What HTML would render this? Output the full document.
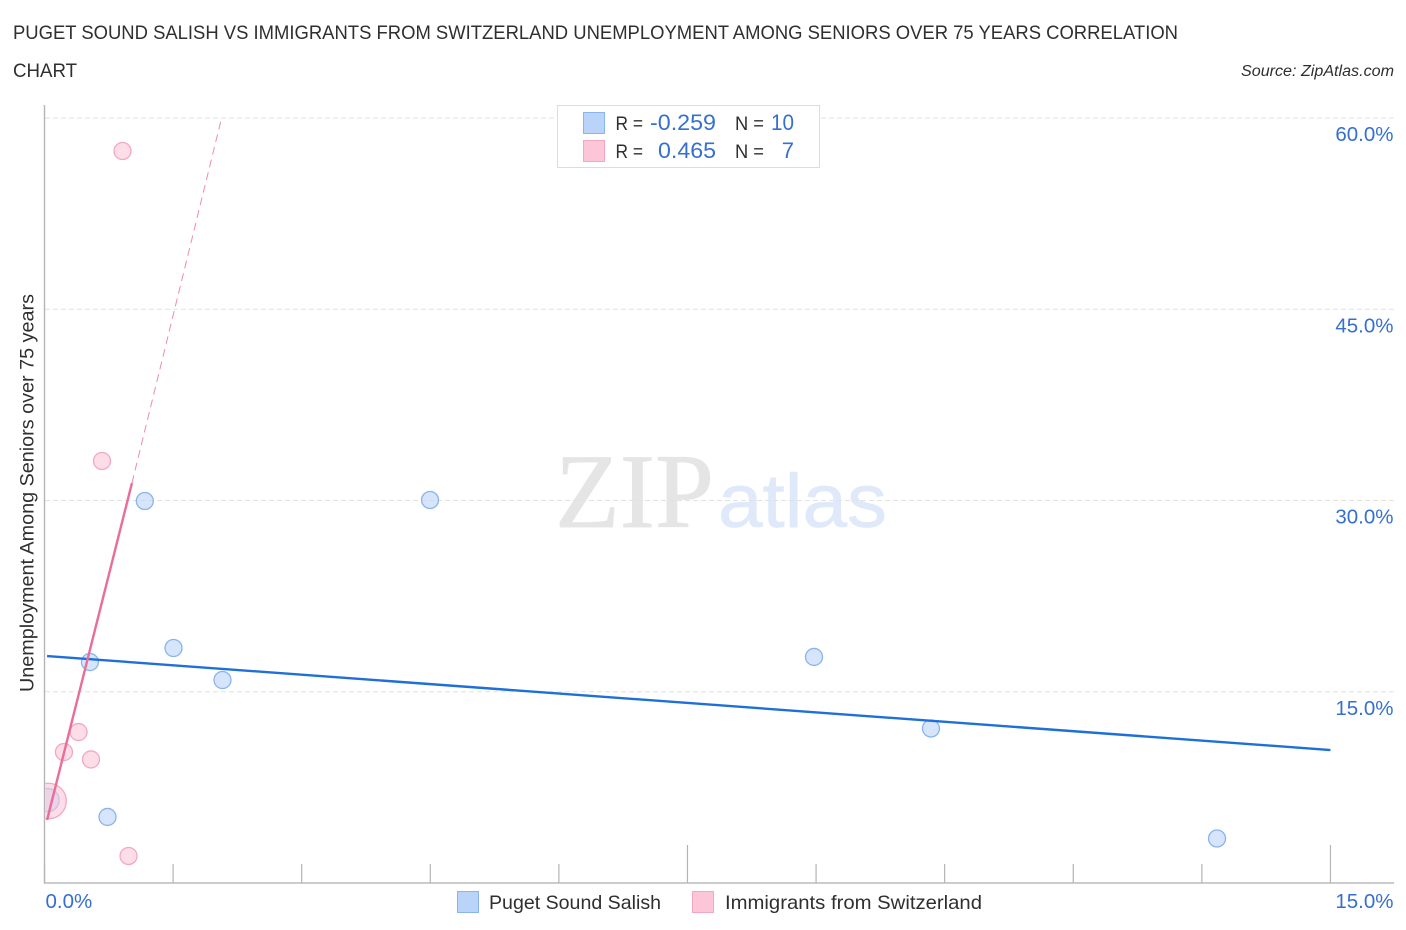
<!DOCTYPE html>
<html lang="en">
<head>
<meta charset="utf-8">
<title>Puget Sound Salish vs Immigrants from Switzerland Correlation Chart</title>
<style>
html,body{margin:0;padding:0;background:#fff;width:1406px;height:930px;overflow:hidden}
svg{display:block;font-family:"Liberation Sans",sans-serif}
.blue-text{fill:#3670cf}
.dark-text{fill:#2f2f2f}
</style>
</head>
<body>
<svg id="chart" width="1406" height="930" viewBox="0 0 1406 930" xmlns="http://www.w3.org/2000/svg">
  <defs>
    <clipPath id="plot-clip"><rect x="45.5" y="100" width="1350" height="783"/></clipPath>
  </defs>
  <text class="dark-text" x="13" y="39" font-size="19.5" textLength="1165" lengthAdjust="spacingAndGlyphs">PUGET SOUND SALISH VS IMMIGRANTS FROM SWITZERLAND UNEMPLOYMENT AMONG SENIORS OVER 75 YEARS CORRELATION</text>
  <text class="dark-text" x="13" y="77" font-size="19.5" textLength="64" lengthAdjust="spacingAndGlyphs">CHART</text>
  <text class="dark-text" x="1241" y="76" font-size="15.5" font-style="italic" textLength="153" lengthAdjust="spacingAndGlyphs">Source: ZipAtlas.com</text>

  <g>
    <text x="555" y="527" font-family="'Liberation Serif',serif" font-size="106" fill="#e5e5e5" stroke="#e5e5e5" stroke-width="0.8" textLength="159" lengthAdjust="spacingAndGlyphs">ZIP</text>
    <text x="718" y="527" font-size="76" fill="#dfe9f9" stroke="#dfe9f9" stroke-width="0.6" textLength="169" lengthAdjust="spacingAndGlyphs">atlas</text>
  </g>

  <g id="grid"></g>
  <g id="axes"></g>
  <g id="marks" clip-path="url(#plot-clip)"></g>
  <g id="labels"></g>

  <text class="dark-text" transform="translate(33.5,692) rotate(-90)" font-size="19.5" textLength="398" lengthAdjust="spacingAndGlyphs">Unemployment Among Seniors over 75 years</text>

  <g>
    <rect x="557.5" y="105.5" width="262" height="62" fill="#fff" stroke="#dcdcdc"/>
    <rect x="583.5" y="112.5" width="21" height="21" fill="#bad4f9" stroke="#8ab4ee"/>
    <rect x="583.5" y="140.5" width="21" height="21" fill="#fcc6d8" stroke="#f4a8c0"/>
    <text class="dark-text" x="615.5" y="130" font-size="19.5" textLength="27.5" lengthAdjust="spacingAndGlyphs">R =</text>
    <text class="blue-text" x="650" y="130" font-size="22" textLength="66" lengthAdjust="spacingAndGlyphs">-0.259</text>
    <text class="dark-text" x="735" y="130" font-size="19.5" textLength="29" lengthAdjust="spacingAndGlyphs">N =</text>
    <text class="blue-text" x="771" y="130" font-size="22" textLength="23" lengthAdjust="spacingAndGlyphs">10</text>
    <text class="dark-text" x="615.5" y="158" font-size="19.5" textLength="27.5" lengthAdjust="spacingAndGlyphs">R =</text>
    <text class="blue-text" x="658" y="158" font-size="22" textLength="58" lengthAdjust="spacingAndGlyphs">0.465</text>
    <text class="dark-text" x="735" y="158" font-size="19.5" textLength="29" lengthAdjust="spacingAndGlyphs">N =</text>
    <text class="blue-text" x="794" y="158" font-size="22" text-anchor="end">7</text>
  </g>

  <g>
    <rect x="457.5" y="891.5" width="21" height="21" fill="#bad4f9" stroke="#8ab4ee"/>
    <text class="dark-text" x="489" y="909" font-size="19.5" textLength="172" lengthAdjust="spacingAndGlyphs">Puget Sound Salish</text>
    <rect x="692.5" y="891.5" width="21" height="21" fill="#fcc6d8" stroke="#f4a8c0"/>
    <text class="dark-text" x="725" y="909" font-size="19.5" textLength="257" lengthAdjust="spacingAndGlyphs">Immigrants from Switzerland</text>
  </g>
</svg>
<script>
const yTickValues = [15, 30, 45, 60];
const yTickLabels = ["15.0%", "30.0%", "45.0%", "60.0%"];
const xTickValues = [0, 1.5, 3, 4.5, 6, 7.5, 9, 10.5, 12, 13.5, 15];
const xMajorTicks = [7.5, 15];
const xEndValues = [0, 15];
const xEndLabels = ["0.0%", "15.0%"];

const salishX = [0.035, 0.53, 1.17, 1.505, 2.076, 4.497, 8.976, 10.34, 13.677, 0.735];
const salishY = [6.5, 17.33, 29.96, 18.43, 15.92, 30.04, 17.73, 12.12, 3.49, 5.18];
const salishWeight = [2, 1, 1, 1, 1, 1, 1, 1, 1, 1];

const swissX = [0.91, 0.671, 0.397, 0.227, 0.542, 0.98, 0.047];
const swissY = [57.41, 33.1, 11.84, 10.27, 9.69, 2.12, 6.43];
const swissWeight = [1, 1, 1, 1, 1, 1, 4];

const salishTrendX = [0.03, 15];
const salishTrendY = [17.8, 10.43];
const swissTrendX = [0.03, 1.02];
const swissTrendY = [4.94, 31.37];
const swissExtendX = [1.02, 2.06];
const swissExtendY = [31.37, 59.84];

const NS = "http://www.w3.org/2000/svg";
function xScale(v) { return 44.5 + v * 85.73; }
function yScale(v) { return 883 - v * 12.75; }
function radius(w) { return 8.5 + (w - 1) * 3.1; }
function make(tag, attrs, parent) {
  const el = document.createElementNS(NS, tag);
  for (const k in attrs) el.setAttribute(k, attrs[k]);
  parent.appendChild(el);
  return el;
}
const grid = document.getElementById("grid");
const axes = document.getElementById("axes");
const marks = document.getElementById("marks");
const labels = document.getElementById("labels");

yTickValues.forEach(function (v, i) {
  const line = make("line", {x1: 45, x2: 1394, y1: yScale(v), y2: yScale(v), stroke: "#e2e2e2", "stroke-width": 1, "stroke-dasharray": "5 3"}, grid);
  
  
  const t = make("text", {x: 1393.5, y: yScale(v) + 23, "font-size": 20.5, "text-anchor": "end", class: "blue-text"}, labels);
  
  
  t.textContent = yTickLabels[i];
});

const yAxis = make("line", {x1: 44.5, x2: 44.5, y1: 105, y2: 883.5, stroke: "#b4b4b4", "stroke-width": 1.4}, axes);


const xAxis = make("line", {x1: 44, x2: 1394, y1: 883, y2: 883, stroke: "#bcbcbc", "stroke-width": 1.4}, axes);



xTickValues.forEach(function (v) {
  const top = xMajorTicks.indexOf(v) >= 0 ? 845 : 864;
  const tick = make("line", {x1: xScale(v), x2: xScale(v), y1: top, y2: 883, stroke: "#b4b4b4", "stroke-width": 1.2}, axes);
  
  
});

xEndValues.forEach(function (v, i) {
  const t = make("text", {x: i === 0 ? xScale(v) + 1 : 1393.5, y: 908, "font-size": 20.5, "text-anchor": i === 0 ? "start" : "end", class: "blue-text"}, labels);
  
  
  t.textContent = xEndLabels[i];
});

salishX.forEach(function (v, i) {
  const c = make("circle", {cx: xScale(v), cy: yScale(salishY[i]), r: radius(salishWeight[i]), fill: "#bad4f9", "fill-opacity": 0.6, stroke: "#8ab4ee", "stroke-width": 1.3}, marks);
  
  
});
swissX.forEach(function (v, i) {
  const c = make("circle", {cx: xScale(v), cy: yScale(swissY[i]), r: radius(swissWeight[i]), fill: "#fcc6d8", "fill-opacity": 0.6, stroke: "#f4a8c0", "stroke-width": 1.3}, marks);
  
  
});

const salishTrend = make("line", {x1: xScale(salishTrendX[0]), y1: yScale(salishTrendY[0]), x2: xScale(salishTrendX[1]), y2: yScale(salishTrendY[1]), stroke: "#1f6fd8", "stroke-width": 2.4}, marks);


const swissTrend = make("line", {x1: xScale(swissTrendX[0]), y1: yScale(swissTrendY[0]), x2: xScale(swissTrendX[1]), y2: yScale(swissTrendY[1]), stroke: "#e96d98", "stroke-width": 2.4}, marks);


const swissExtend = make("line", {x1: xScale(swissExtendX[0]), y1: yScale(swissExtendY[0]), x2: xScale(swissExtendX[1]), y2: yScale(swissExtendY[1]), stroke: "#ee8cae", "stroke-width": 1, "stroke-dasharray": "8 5"}, marks);


</script>
</body>
</html>
